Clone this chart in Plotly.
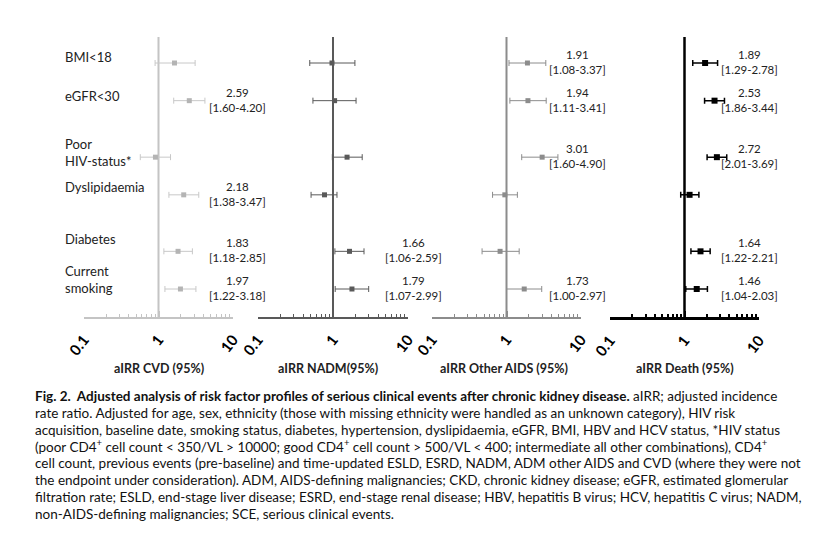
import plotly.graph_objects as go

W, H = 826, 543

# ---------------- data ----------------
rows = ["BMI&lt;18", "eGFR&lt;30", "Poor<br>HIV-status*", "Dyslipidaemia", "Diabetes", "Current<br>smoking"]

cvd_est = [1.64, 2.59, 0.91, 2.18, 1.83, 1.97]
cvd_lo = [0.90, 1.60, 0.57, 1.38, 1.18, 1.22]
cvd_hi = [3.10, 4.20, 1.45, 3.47, 2.85, 3.18]

nadm_est = [0.97, 1.05, 1.54, 0.77, 1.66, 1.79]
nadm_lo = [0.49, 0.54, 0.98, 0.51, 1.06, 1.07]
nadm_hi = [1.96, 2.03, 2.45, 1.13, 2.59, 2.99]

aids_est = [1.91, 1.94, 3.01, 0.95, 0.82, 1.73]
aids_lo = [1.08, 1.11, 1.60, 0.65, 0.47, 1.00]
aids_hi = [3.37, 3.41, 4.90, 1.40, 1.48, 2.97]

death_est = [1.89, 2.53, 2.72, 1.17, 1.64, 1.46]
death_lo = [1.29, 1.86, 2.01, 0.89, 1.22, 1.04]
death_hi = [2.78, 3.44, 3.69, 1.56, 2.21, 2.03]

panel_titles = ["aIRR CVD (95%)", "aIRR NADM(95%)", "aIRR Other AIDS (95%)", "aIRR Death (95%)"]
tick_vals = [0.1, 1, 10]
tick_text = ["0.1", "1", "10"]

caption_lines = [
    "<b>Fig. 2.&nbsp;&nbsp;Adjusted analysis of risk factor profiles of serious clinical events after chronic kidney disease.</b> aIRR; adjusted incidence",
    "rate ratio. Adjusted for age, sex, ethnicity (those with missing ethnicity were handled as an unknown category), HIV risk",
    "acquisition, baseline date, smoking status, diabetes, hypertension, dyslipidaemia, eGFR, BMI, HBV and HCV status, *HIV status",
    "(poor CD4<sup>+</sup> cell count &lt; 350/VL &gt; 10000; good CD4<sup>+</sup> cell count &gt; 500/VL &lt; 400; intermediate all other combinations), CD4<sup>+</sup>",
    "cell count, previous events (pre-baseline) and time-updated ESLD, ESRD, NADM, ADM other AIDS and CVD (where they were not",
    "the endpoint under consideration). ADM, AIDS-defining malignancies; CKD, chronic kidney disease; eGFR, estimated glomerular",
    "filtration rate; ESLD, end-stage liver disease; ESRD, end-stage renal disease; HBV, hepatitis B virus; HCV, hepatitis C virus; NADM,",
    "non-AIDS-defining malignancies; SCE, serious clinical events.",
]

# ---------------- layout / style ----------------
row_pos = [6, 5, 3.5, 2.5, 1, 0]
label_dy = [0.16, 0.13, 0.12, 0.21, 0.34, 0.24]
panel_px = [(84, 233), (258, 408), (432, 581), (610, 759)]
line_colors = ["#c4c4c4", "#595959", "#8c8c8c", "#000000"]
mark_colors = ["#b4b4b4", "#595959", "#8c8c8c", "#000000"]
ann_xlog = [1.06, 1.07, 0.95, 0.87]
title_xlog = [0.0, -0.07, -0.04, 0.0]
FONT = "Lato"

series = [
    (cvd_est, cvd_lo, cvd_hi),
    (nadm_est, nadm_lo, nadm_hi),
    (aids_est, aids_lo, aids_hi),
    (death_est, death_lo, death_hi),
]


def log_to_paper(i, xlog):
    a, b = panel_px[i]
    return (a + (xlog + 1) / 2 * (b - a)) / W


y_top_px, y_bot_px = 37, 317
unit = (289 - 63) / 6.0
y_range = [0 - (y_bot_px - 289) / unit, 6 + (63 - y_top_px) / unit]

fig = go.Figure()
annotations = []
shapes = []

for i, (est, lo, hi) in enumerate(series):
    xa = "x" if i == 0 else f"x{i+1}"
    fig.add_trace(go.Scatter(
        x=est, y=row_pos, mode="markers", xaxis=xa, yaxis="y",
        marker=dict(symbol="square", size=6 if i == 3 else 5, color=mark_colors[i]),
        error_x=dict(type="data", symmetric=False,
                     array=[h - e for h, e in zip(hi, est)],
                     arrayminus=[e - l for e, l in zip(est, lo)],
                     color=line_colors[i] if i != 0 else "#c8c8c8",
                     thickness=1.5 if i == 3 else 1, width=3),
        showlegend=False, hoverinfo="skip",
    ))
    ax = dict(
        type="log", range=[-1, 1], domain=[panel_px[i][0] / W, panel_px[i][1] / W],
        anchor="y", showgrid=False, zeroline=False, automargin=False,
        showline=True, linecolor=line_colors[i], linewidth=2.5 if i == 3 else 2,
        ticks="inside", ticklen=6, tickwidth=2 if i == 3 else 1.5, tickcolor=line_colors[i],
        tickvals=tick_vals, ticktext=tick_text, tickangle=-52,
        tickfont=dict(family=FONT, size=15, color="#000", weight="bold"),
        ticklabelstandoff=6,
        minor=dict(ticks="inside", ticklen=3, tickwidth=1.5 if i == 3 else 1,
                   tickcolor=line_colors[i], dtick="D1", showgrid=False),
    )
    fig.update_layout(**{("xaxis" if i == 0 else f"xaxis{i+1}"): ax})
    # vertical reference line at 1
    shapes.append(dict(type="line", xref=xa, yref="y domain", x0=1, x1=1, y0=0, y1=1,
                       line=dict(color=line_colors[i], width=2.5 if i == 3 else 2), layer="below"))
    # value annotations for significant effects
    for e, l, h, yp in zip(est, lo, hi, row_pos):
        if l >= 1.0:
            annotations.append(dict(
                x=log_to_paper(i, ann_xlog[i]), y=yp + 0.03, xref="paper", yref="y",
                text=f"{e:.2f}<br>[{l:.2f}-{h:.2f}]", showarrow=False,
                xanchor="center", yanchor="middle", align="center",
                font=dict(family=FONT, size=11.5, color="#222")))
    annotations.append(dict(
        x=log_to_paper(i, title_xlog[i]), y=1 - 368 / H, xref="paper", yref="paper",
        text=f"<b>{panel_titles[i]}</b>", showarrow=False,
        xanchor="center", yanchor="middle",
        font=dict(family=FONT, size=12.5, color="#222")))

for r, yp, dy in zip(rows, row_pos, label_dy):
    annotations.append(dict(
        x=63 / W, y=yp + dy, xref="paper", yref="y", text=r, showarrow=False,
        xanchor="left", yanchor="middle", align="left",
        font=dict(family=FONT, size=13, color="#222")))

cap_y0, cap_dy = 396, 16.8
for k, line in enumerate(caption_lines):
    annotations.append(dict(
        x=33 / W, y=1 - (cap_y0 + k * cap_dy) / H, xref="paper", yref="paper",
        text=line, showarrow=False, xanchor="left", yanchor="middle", align="left",
        font=dict(family=FONT, size=13.5, color="#111")))

fig.update_layout(
    width=W, height=H, margin=dict(l=0, r=0, t=0, b=0, autoexpand=False),
    paper_bgcolor="white", plot_bgcolor="white",
    yaxis=dict(range=y_range, domain=[1 - y_bot_px / H, 1 - y_top_px / H], automargin=False,
               visible=False, showgrid=False, zeroline=False, fixedrange=True),
    annotations=annotations, shapes=shapes,
)

fig.write_html("out.html")
